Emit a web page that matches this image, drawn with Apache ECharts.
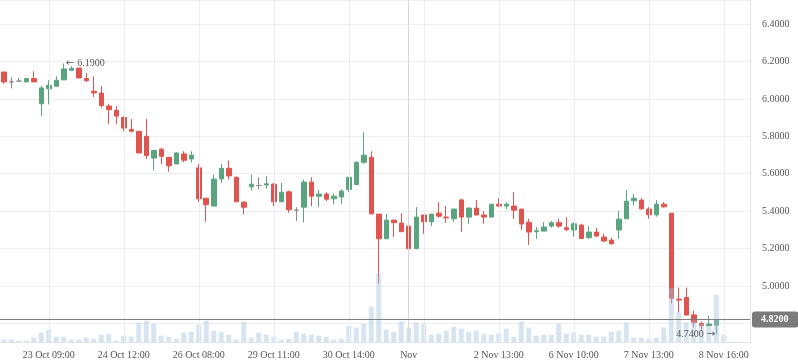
<!DOCTYPE html>
<html><head><meta charset="utf-8">
<script src="https://cdn.jsdelivr.net/npm/echarts@6/dist/echarts.min.js"></script>
<style>html,body{margin:0;padding:0;background:#fff}#c{width:798px;height:363px}</style>
</head><body><div id="c"></div>
<script>
// number of bar slots on the time axis (last 3 slots empty)
const slotCount = 100;
const categories = Array.from({length: slotCount}, (_, i) => 'bar' + i);
const tickIndex  = [6, 16, 26, 36, 46, 54, 66, 76, 86, 96];
const tickLabels = ['23 Oct 09:00','24 Oct 12:00','26 Oct 08:00','29 Oct 11:00','30 Oct 14:00','Nov','2 Nov 13:00','6 Nov 10:00','7 Nov 13:00','8 Nov 16:00'];
const gridIndex  = [6, 16, 26, 36, 46, 56, 66, 76, 86, 96];
const monthIndex = 54;
const lastPrice = 4.82;

const opens  = [6.144,6.091,6.095,6.091,6.109,5.974,6.054,6.068,6.102,6.153,6.165,6.109,6.041,6.031,5.962,5.939,5.901,5.837,5.827,5.800,5.684,5.731,5.688,5.652,5.706,5.679,5.631,5.469,5.427,5.572,5.629,5.581,5.448,5.530,5.537,5.540,5.544,5.450,5.503,5.405,5.421,5.555,5.480,5.491,5.466,5.476,5.516,5.542,5.661,5.688,5.384,5.252,5.352,5.336,5.320,5.199,5.379,5.343,5.389,5.368,5.359,5.460,5.368,5.416,5.379,5.368,5.437,5.427,5.427,5.411,5.341,5.290,5.293,5.320,5.338,5.311,5.299,5.325,5.258,5.288,5.261,5.245,5.299,5.359,5.455,5.459,5.411,5.380,5.437,5.389,4.929,4.938,4.845,4.799,4.787,4.790,4.820];
const closes = [6.091,6.091,6.095,6.109,6.091,6.059,6.073,6.100,6.160,6.162,6.112,6.098,6.032,5.965,5.942,5.908,5.844,5.827,5.711,5.697,5.724,5.693,5.642,5.711,5.672,5.699,5.466,5.434,5.571,5.629,5.588,5.450,5.421,5.544,5.537,5.546,5.450,5.501,5.407,5.405,5.555,5.480,5.491,5.464,5.480,5.507,5.581,5.661,5.699,5.386,5.252,5.352,5.338,5.290,5.199,5.368,5.343,5.384,5.373,5.364,5.411,5.368,5.416,5.379,5.368,5.437,5.427,5.437,5.405,5.331,5.288,5.295,5.315,5.338,5.320,5.302,5.332,5.254,5.288,5.267,5.240,5.226,5.357,5.453,5.469,5.412,5.380,5.437,5.423,4.934,4.924,4.844,4.804,4.787,4.796,4.819,4.820];
const lows   = [6.080,6.056,6.095,6.091,6.091,5.909,5.971,6.063,6.102,6.153,6.112,6.091,6.011,5.953,5.864,5.864,5.827,5.821,5.711,5.679,5.619,5.652,5.610,5.652,5.661,5.661,5.448,5.343,5.427,5.551,5.569,5.450,5.382,5.510,5.516,5.519,5.427,5.450,5.391,5.347,5.340,5.427,5.421,5.453,5.436,5.439,5.503,5.542,5.653,5.382,5.012,5.252,5.261,5.290,5.199,5.199,5.279,5.320,5.364,5.338,5.343,5.290,5.332,5.379,5.332,5.368,5.421,5.411,5.357,5.299,5.219,5.252,5.293,5.311,5.311,5.293,5.263,5.251,5.252,5.261,5.235,5.219,5.252,5.359,5.430,5.407,5.359,5.370,5.418,4.906,4.858,4.844,4.778,4.764,4.787,4.740,4.820];
const highs  = [6.144,6.116,6.112,6.109,6.148,6.072,6.100,6.121,6.190,6.175,6.165,6.139,6.121,6.068,5.974,5.962,5.907,5.892,5.827,5.892,5.729,5.738,5.688,5.715,5.720,5.720,5.652,5.469,5.596,5.652,5.670,5.585,5.453,5.596,5.581,5.587,5.551,5.551,5.510,5.421,5.569,5.581,5.512,5.501,5.494,5.517,5.581,5.667,5.821,5.720,5.384,5.384,5.352,5.389,5.320,5.421,5.379,5.384,5.448,5.427,5.411,5.466,5.421,5.459,5.400,5.437,5.469,5.448,5.501,5.411,5.359,5.315,5.341,5.347,5.359,5.368,5.341,5.332,5.320,5.311,5.279,5.258,5.400,5.512,5.491,5.469,5.421,5.459,5.448,5.389,4.991,4.991,4.867,4.810,4.840,4.819,4.820];
const volumes = [23,23,13,13,43,93,123,53,53,23,23,43,33,73,83,13,63,53,193,213,183,63,53,33,93,103,173,213,113,103,73,23,203,43,93,73,53,23,33,103,83,73,63,53,23,33,163,143,183,353,683,123,103,203,143,193,178,73,83,113,153,133,103,113,83,73,83,133,53,203,143,63,73,73,183,83,93,73,73,53,55,103,115,195,43,43,33,43,145,537,296,196,213,180,156,473,73];

const ohlc = opens.map((o, i) => [o, closes[i], lows[i], highs[i]]);
const FONT = 'Liberation Serif';
const UP = '#5aa57f', DOWN = '#e0544f';

const vLines = gridIndex.map(i => ({xAxis: i}));
vLines.push({xAxis: monthIndex, lineStyle: {color: '#d6d8db'}});

const arrowRich = {a: {fontFamily: 'DejaVu Sans', fontSize: 10, color: '#555'}, t: {fontFamily: FONT, fontSize: 10, color: '#555'}};

const chart = echarts.init(document.getElementById('c'), null, {renderer: 'canvas'});
chart.setOption({
  animation: false,
  backgroundColor: '#fff',
  textStyle: {fontFamily: FONT},
  grid: [
    {left: 0, right: 48, top: -1, bottom: 21},
    {left: 0, right: 48, top: 242, bottom: 21}
  ],
  xAxis: [
    {type: 'category', gridIndex: 0, data: categories, show: false},
    {type: 'category', gridIndex: 1, data: categories,
     axisLine: {show: true, lineStyle: {color: '#dfe2e6'}},
     axisTick: {show: false},
     splitLine: {show: false},
     axisLabel: {
       color: '#555', fontFamily: FONT, fontSize: 10, margin: 8,
       interval: (i) => tickIndex.indexOf(i) >= 0,
       formatter: (v, i) => { const k = tickIndex.indexOf(i); return k >= 0 ? tickLabels[k] : ''; }
     }}
  ],
  yAxis: [
    {type: 'value', gridIndex: 0, position: 'right', min: 4.7, max: 6.529, splitNumber: 9,
     axisLine: {show: true, lineStyle: {color: '#dfe2e6'}},
     axisTick: {show: false},
     splitLine: {lineStyle: {color: '#eceef1'}},
     axisLabel: {color: '#555', fontFamily: FONT, fontSize: 10, margin: 12,
       showMinLabel: false, showMaxLabel: false,
       formatter: v => v.toFixed(4)}},
    {type: 'value', gridIndex: 1, min: 0, max: 1000, show: false, splitLine: {show: false}}
  ],
  series: [
    {
      type: 'candlestick', xAxisIndex: 0, yAxisIndex: 0, data: ohlc, barWidth: 5,
      itemStyle: {color: UP, color0: DOWN, borderColor: UP, borderColor0: DOWN, borderColorDoji: '#888', borderWidth: 1},
      markLine: {silent: true, symbol: 'none', label: {show: false},
        lineStyle: {color: '#eceef1', width: 1, type: 'solid'}, data: vLines},
      markPoint: {
        symbol: 'circle', symbolSize: 0,
        data: [
          {type: 'max', valueDim: 'highest',
           label: {show: true, position: 'right', distance: 2, rich: arrowRich,
             formatter: p => '{a|\u2190} {t|' + Number(p.value).toFixed(4) + '}'}},
          {type: 'min', valueDim: 'lowest',
           label: {show: true, position: 'left', distance: 1, rich: arrowRich,
             formatter: p => '{t|' + Number(p.value).toFixed(4) + '} {a|\u2192}'}}
        ]
      }
    },
    {
      type: 'bar', xAxisIndex: 1, yAxisIndex: 1, data: volumes, barWidth: 5,
      itemStyle: {color: 'rgba(166,196,226,0.45)'}, z: 3
    },
    {
      type: 'line', xAxisIndex: 0, yAxisIndex: 0, data: [], z: 5,
      markLine: {silent: true, symbol: 'none',
        lineStyle: {color: '#7d7d7d', width: 1, type: 'solid'},
        label: {show: true, position: 'end', distance: 2, color: '#fff', fontFamily: FONT, fontSize: 10, fontWeight: 'bold',
          backgroundColor: '#7b7b7b', borderRadius: 3, padding: [3, 10, 3, 9],
          formatter: p => Number(p.value).toFixed(4)},
        data: [{yAxis: lastPrice}]}
    }
  ]
});
</script></body></html>
